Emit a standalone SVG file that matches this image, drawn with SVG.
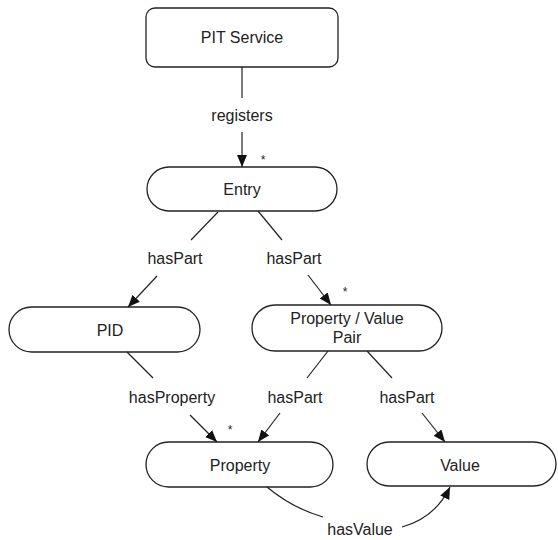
<svg xmlns="http://www.w3.org/2000/svg" width="558" height="540" viewBox="0 0 558 540">
<style>
.node{fill:#fff;stroke:#222;stroke-width:1.3}
.t{font-family:"Liberation Sans",Arial,sans-serif;font-size:16px;fill:#222;text-anchor:middle;dominant-baseline:central}
.c{fill:none;stroke:#222;stroke-width:1.2}
.a{marker-end:url(#ah)}
.star{font-family:"Liberation Sans",Arial,sans-serif;font-size:12px;fill:#222;text-anchor:middle}
</style>
<defs>
<marker id="ah" markerUnits="userSpaceOnUse" markerWidth="14" markerHeight="12" refX="12" refY="5" orient="auto" viewBox="0 0 14 12">
<path d="M0,0 L12,5 L0,10 Z" fill="#111"/>
</marker>
</defs>
<rect width="558" height="540" fill="#fff"/>
<g id="pit-service"><rect class="node" x="146" y="8" width="192" height="59" rx="9"/><text class="t" x="242" y="37">PIT Service</text></g>
<g id="entry"><rect class="node" x="147" y="167" width="190" height="44" rx="22"/><text class="t" x="242" y="189">Entry</text></g>
<g id="pid"><rect class="node" x="9" y="307" width="191" height="45" rx="22.5"/><text class="t" x="110" y="330">PID</text></g>
<g id="pv-pair"><rect class="node" x="252" y="305" width="190" height="46" rx="23"/><text class="t" x="347" y="318">Property / Value</text><text class="t" x="347" y="337">Pair</text></g>
<g id="property"><rect class="node" x="146" y="442" width="187" height="45" rx="22.5"/><text class="t" x="240" y="465">Property</text></g>
<g id="value"><rect class="node" x="367" y="442" width="189" height="44" rx="22"/><text class="t" x="460" y="465">Value</text></g>
<g id="connectors">
<path class="c" d="M242,67 L242,98"/>
<path class="c a" d="M242,132 L242,167"/>
<text class="t" x="242" y="115">registers</text>
<text class="star" x="263" y="164">*</text>
<path class="c" d="M218,212 L191,240"/>
<path class="c a" d="M157,276 L128,307"/>
<text class="t" x="175" y="258">hasPart</text>
<path class="c" d="M258,211 L282,240"/>
<path class="c a" d="M308,275 L331,305"/>
<text class="t" x="294" y="258">hasPart</text>
<text class="star" x="345" y="296">*</text>
<path class="c" d="M127,352 L153,378"/>
<path class="c a" d="M190,415 L217,442"/>
<text class="t" x="172" y="397">hasProperty</text>
<text class="star" x="230" y="434">*</text>
<path class="c" d="M328,351 L307,378"/>
<path class="c a" d="M280,413 L258,442"/>
<text class="t" x="295" y="397">hasPart</text>
<path class="c" d="M367,351 L392,378"/>
<path class="c a" d="M422,413 L445,442"/>
<text class="t" x="407" y="397">hasPart</text>
<path class="c" d="M267,487 Q292,508 323,517"/>
<path class="c a" d="M402,527 Q435,518 450,487"/>
<text class="t" x="360" y="529">hasValue</text>
</g>
</svg>
